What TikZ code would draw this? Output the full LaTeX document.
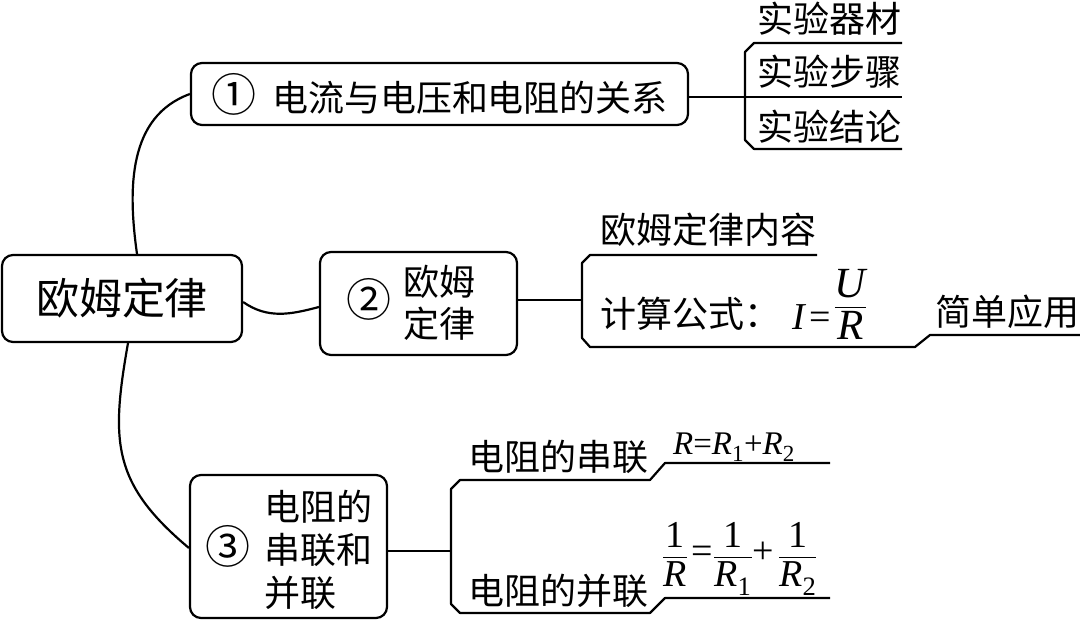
\documentclass[tikz,border=0pt]{standalone}
\usepackage{amsmath}
\usepackage{fontspec}
\setmainfont{Noto Sans CJK SC}
\newfontfamily\tnr{Liberation Serif}
\usetikzlibrary{positioning}
\newcommand{\qn}[1]{\scalebox{1.25}{#1}}

\begin{document}
\begin{tikzpicture}[x=1pt, y=1pt, line width=2.2pt, line join=round,
    every node/.append style={font=\fontsize{36}{40}\selectfont},
    box/.style={draw, rounded corners=11pt, inner sep=0pt, align=left},
    lbl/.style={inner sep=0pt, anchor=base west},
    frml/.style={inner sep=0pt, anchor=base west}]
\useasboundingbox (0,0) rectangle (1080,621);
%boxes
\node[box, minimum width=240, minimum height=87, font=\fontsize{43}{48}\selectfont] (m) at (122,322.5) {欧姆定律};
\node[box, minimum width=497, minimum height=62] (b1) at (439.5,527) {\qn{①}\hspace{16pt}电流与电压和电阻的关系};
\node[box, minimum width=197, minimum height=103] (b2) at (418.5,317.5)
  {\raisebox{-20.5pt}[0pt][0pt]{\qn{②}}\hspace{12pt}欧姆\kern16pt\\\phantom{\qn{②}}\hspace{12pt}定律};
\node[box, minimum width=197, minimum height=143] (b3) at (288.5,74.5)
  {\phantom{\qn{③}}\hspace{14pt}电阻的\\\qn{③}\hspace{14pt}串联和\\\phantom{\qn{③}}\hspace{14pt}并联};
%curves from the main box
\draw ([xshift=15pt]m.north) to[out=98, in=200] (b1.west);
\draw ([yshift=-3.5pt]m.east) to[out=-35, in=195] ([yshift=-3.5pt]b2.west);
\draw ([xshift=6pt]m.south) to[out=-100, in=140, looseness=1.2] ([yshift=-1.5pt]b3.west);
%branch 1
\coordinate (c11) at (754,578);
\coordinate (c12) at (745,524);
\coordinate (c13) at (754,472);
\draw (902,578) -- (c11) -- (745,569) -- (745,481) -- (c13) -- (902,472);
\draw (b1.east |- c12) -- (902,524);
\node[lbl, above right=10.5pt and 2pt of c11, anchor=base west] (s11) {实验器材};
\node[lbl, above right=11pt and 11pt of c12, anchor=base west] (s12) {实验步骤};
\node[lbl, above right=8.5pt and 2pt of c13, anchor=base west] (s13) {实验结论};
%branch 2
\coordinate (t2) at (582,321);
\coordinate (c21) at (590,366);
\coordinate (c22) at (590,274);
\coordinate (c23) at (930,286);
\draw ([yshift=3.5pt]b2.east) -- (t2);
\draw (817,366) -- (c21) -- (582,358) -- (582,283) -- (c22) -- (915,274) -- (c23) -- (1080,286);
\node[lbl, above right=11.5pt and 9pt of c21, anchor=base west] (s21) {欧姆定律内容};
\node[lbl, above right=19.5pt and 9pt of c22, anchor=base west] (s22) {计算公式：};
\node[frml, font=\tnr\fontsize{38}{44}\selectfont] (f22) at (791,291)
  {\textit{I}\hspace{3pt}=\hspace{3pt}\raisebox{16pt}{\fontsize{43}{48}\selectfont$\dfrac{\textit{U}}{\textit{R}}$}};
\node[lbl, above right=9.5pt and 4pt of c23, anchor=base west] (s23) {简单应用};
%branch 3
\coordinate (t3) at (451,70);
\coordinate (c31) at (460,141);
\coordinate (c32) at (460,8);
\coordinate (c33) at (665,158);
\coordinate (c34) at (665,23);
\draw ([yshift=-4.5pt]b3.east) -- (t3);
\draw (830,158) -- (c33) -- (650,141) -- (c31) -- (451,132) -- (451,17) -- (c32) -- (650,8) -- (c34) -- (830,23);
\node[lbl, above right=9.5pt and 7pt of c31, anchor=base west] (s31) {电阻的串联};
\node[lbl, above right=8.5pt and 7pt of c32, anchor=base west] (s32) {电阻的并联};
\node[frml, font=\tnr\fontsize{33}{38}\selectfont, above right=8pt and 7pt of c33, anchor=base west] (f31)
  {$\textit{R}\text{=}\textit{R}_{\text{1}}\text{+}\textit{R}_{\text{2}}$};
\node[frml, font=\tnr\fontsize{38}{42}\selectfont] (f32) at (661,57)
  {$\dfrac{\text{1}}{\textit{R}}\,\text{=}\dfrac{\text{1}}{\textit{R}_{\text{1}}}\text{+}\,\dfrac{\text{1}}{\textit{R}_{\text{2}}}$};
\end{tikzpicture}
\end{document}
